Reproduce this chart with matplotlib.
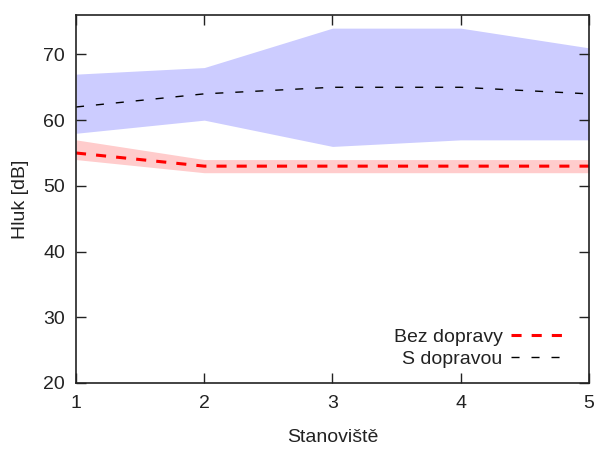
import matplotlib.pyplot as plt

plt.rcParams['font.family'] = ['Liberation Sans', 'DejaVu Sans']

# data
stanoviste = [1, 2, 3, 4, 5]
bez_mean = [55, 53, 53, 53, 53]
bez_low = [54, 52, 52, 52, 52]
bez_high = [57, 54, 54, 54, 54]
s_mean = [62, 64, 65, 65, 64]
s_low = [58, 60, 56, 57, 57]
s_high = [67, 68, 74, 74, 71]

fig = plt.figure(figsize=(5.97, 4.49), dpi=100)
ax = fig.add_axes([0.1273, 0.147, 0.8593, 0.8196])

ax.fill_between(stanoviste, s_low, s_high, color='#ccccff', lw=0)
ax.fill_between(stanoviste, bez_low, bez_high, color='#ffcccc', lw=0)
ax.plot(stanoviste, bez_mean, color='red', lw=2.2, linestyle=(0, (3.3, 3.3)), label='Bez dopravy')
ax.plot(stanoviste, s_mean, color='black', lw=1.0, linestyle=(0, (5.8, 8.6)), label='S dopravou')

ax.set_xlim(1, 5)
ax.set_ylim(20, 76)
ax.set_xticks([1, 2, 3, 4, 5])
ax.set_yticks([20, 30, 40, 50, 60, 70])
ax.tick_params(direction='in', length=7, width=1, top=True, right=True, labelsize=14, colors='#222222')
ax.tick_params(axis='y', pad=8)
ax.tick_params(axis='x', pad=9)
for s in ax.spines.values():
    s.set_linewidth(1.2)
    s.set_color('#222222')

ax.set_xlabel('Stanoviště', fontsize=14, labelpad=12, color='#222222')
ax.set_ylabel('Hluk [dB]', fontsize=14, labelpad=10, color='#222222')

leg = ax.legend(loc='lower right', bbox_to_anchor=(0.947, 0.04), frameon=False, fontsize=14,
                markerfirst=False, handlelength=2.6, handletextpad=0.45, labelspacing=0.25,
                borderpad=0, borderaxespad=0)
for t in leg.get_texts():
    t.set_color('#222222')

plt.savefig('out.png', dpi=100)
